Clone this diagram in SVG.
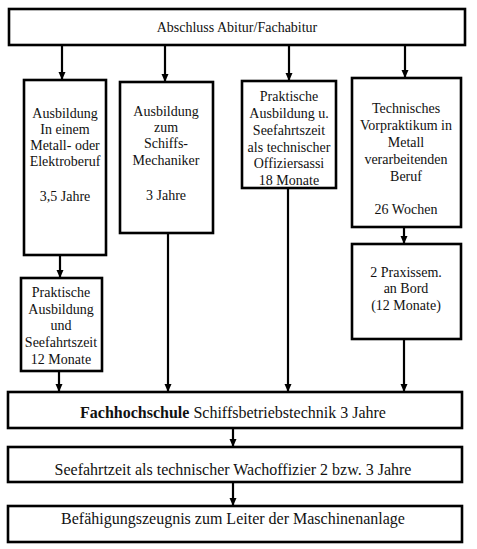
<svg xmlns="http://www.w3.org/2000/svg" width="477" height="549" viewBox="0 0 477 549">
<style>
.box{fill:#fff;stroke:#000;stroke-width:2.6}
text{font-family:"Liberation Serif","Times New Roman",serif;font-size:14px;fill:#111;text-anchor:middle}
text.big{font-size:16px}
.c line{stroke:#000;stroke-width:2.2}
</style>
<defs>
<marker id="ah" viewBox="0 0 8 8" refX="8" refY="4" markerWidth="8" markerHeight="8" markerUnits="userSpaceOnUse" orient="auto">
<path d="M0,0.5 L8,4 L0,7.5 Z" fill="#000"/>
</marker>
</defs>
<rect width="477" height="549" fill="#fff"/>
<g class="c" id="connectors">
<line x1="62" y1="45" x2="62" y2="80" marker-end="url(#ah)"/>
<line x1="165" y1="45" x2="165" y2="82" marker-end="url(#ah)"/>
<line x1="289" y1="45" x2="289" y2="81" marker-end="url(#ah)"/>
<line x1="405" y1="45" x2="405" y2="78" marker-end="url(#ah)"/>
<line x1="60" y1="255" x2="60" y2="278" marker-end="url(#ah)"/>
<line x1="404" y1="227" x2="404" y2="244" marker-end="url(#ah)"/>
<line x1="59" y1="371" x2="59" y2="392" marker-end="url(#ah)"/>
<line x1="168" y1="233" x2="168" y2="392" marker-end="url(#ah)"/>
<line x1="288" y1="188" x2="288" y2="392" marker-end="url(#ah)"/>
<line x1="404" y1="339" x2="404" y2="392" marker-end="url(#ah)"/>
<line x1="233" y1="428" x2="233" y2="447" marker-end="url(#ah)"/>
<line x1="233" y1="482" x2="233" y2="506" marker-end="url(#ah)"/>
</g>
<g id="n-top">
<rect class="box" x="9" y="9" width="456" height="36"/>
<text x="237" y="32">Abschluss  Abitur/Fachabitur</text>
</g>
<g id="n-b1">
<rect class="box" x="24" y="80" width="82" height="175"/>
<text x="65" y="118">Ausbildung</text>
<text x="65" y="134">In einem</text>
<text x="65" y="150">Metall- oder</text>
<text x="65" y="166">Elektroberuf</text>
<text x="65" y="201">3,5 Jahre</text>
</g>
<g id="n-b2">
<rect class="box" x="120" y="82" width="93" height="151"/>
<text x="166" y="116">Ausbildung</text>
<text x="166" y="132">zum</text>
<text x="166" y="148">Schiffs-</text>
<text x="166" y="165">Mechaniker</text>
<text x="166" y="200">3 Jahre</text>
</g>
<g id="n-b3">
<rect class="box" x="242" y="81" width="94" height="107"/>
<text x="289" y="101">Praktische</text>
<text x="289" y="118">Ausbildung u.</text>
<text x="289" y="135">Seefahrtszeit</text>
<text x="289" y="152">als technischer</text>
<text x="289" y="168">Offiziersassi</text>
<text x="289" y="185">18 Monate</text>
</g>
<g id="n-b4">
<rect class="box" x="352" y="78" width="109" height="149"/>
<text x="406" y="113">Technisches</text>
<text x="406" y="130">Vorpraktikum in</text>
<text x="406" y="147">Metall</text>
<text x="406" y="164">verarbeitenden</text>
<text x="406" y="181">Beruf</text>
<text x="406" y="214">26 Wochen</text>
</g>
<g id="n-b5">
<rect class="box" x="21" y="278" width="81" height="93"/>
<text x="61" y="297">Praktische</text>
<text x="61" y="314">Ausbildung</text>
<text x="61" y="330">und</text>
<text x="61" y="347">Seefahrtszeit</text>
<text x="61" y="364">12 Monate</text>
</g>
<g id="n-b6">
<rect class="box" x="352" y="244" width="109" height="95"/>
<text x="406" y="277">2 Praxissem.</text>
<text x="406" y="293">an Bord</text>
<text x="406" y="310">(12 Monate)</text>
</g>
<g id="n-fh">
<rect class="box" x="8" y="392" width="454" height="36"/>
<text class="big" x="233" y="418"><tspan font-weight="bold">Fachhochschule</tspan> Schiffsbetriebstechnik 3 Jahre</text>
</g>
<g id="n-sz">
<rect class="box" x="8" y="447" width="454" height="35"/>
<text class="big" x="233" y="475">Seefahrtzeit als technischer Wachoffizier 2 bzw. 3 Jahre</text>
</g>
<g id="n-bz">
<rect class="box" x="8" y="506" width="454" height="36"/>
<text class="big" x="233" y="524">Befähigungszeugnis zum Leiter der Maschinenanlage</text>
</g>
</svg>
